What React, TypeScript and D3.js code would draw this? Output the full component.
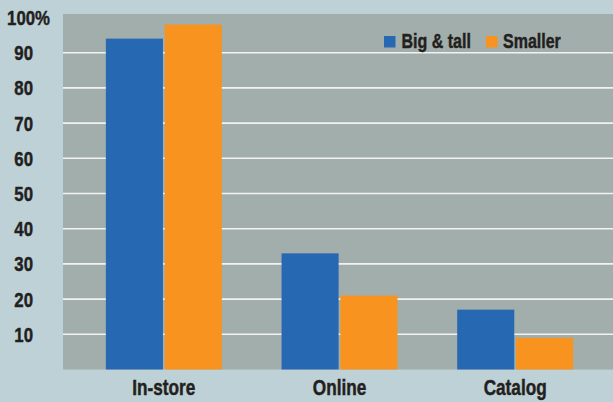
import React, { useEffect, useRef } from 'react'
import * as d3 from 'd3'

// Values (percent)
const categories = ['In-store', 'Online', 'Catalog']
const seriesNames = ['Big & tall', 'Smaller']
const bigAndTall = [94, 33, 17]
const smaller = [98, 21, 9]
const yTicks = [10, 20, 30, 40, 50, 60, 70, 80, 90, 100]

const colors = ['#2768b3', '#f7931e']

const WIDTH = 613
const HEIGHT = 402
// No narrow font installed: squeeze Liberation Sans horizontally (like Arial Narrow)
const FONT = '"Liberation Sans", Arial, sans-serif'
const SQUEEZE = 0.8

export default function App() {
  const svgRef = useRef<SVGSVGElement>(null)

  useEffect(() => {
    if (!svgRef.current) return

    const svg = d3.select(svgRef.current)
    svg.selectAll('*').remove()

    const plotLeft = 63
    const plotRight = WIDTH

    const y = d3.scaleLinear().domain([0, 100]).range([369.5, 17.5])

    const x0 = d3.scaleBand<string>()
      .domain(categories)
      .range([76, 603])
      .paddingInner(0.34)
      .paddingOuter(0.17)

    const x1 = d3.scaleBand<string>()
      .domain(seriesNames)
      .range([0, x0.bandwidth()])
      .paddingInner(0.03)

    // helper: narrow heavy text placed at (x, y)
    const label = (
      parent: d3.Selection<any, any, any, any>,
      x: number,
      yy: number,
      text: string,
      size: number,
      anchor: string,
      dy = '0'
    ) => {
      parent.append('g')
        .attr('transform', `translate(${x},${yy}) scale(${SQUEEZE},1)`)
        .append('text')
        .attr('dy', dy)
        .attr('text-anchor', anchor)
        .attr('fill', '#231f20')
        .attr('stroke', '#231f20')
        .attr('stroke-width', 0.45)
        .style('font-family', FONT)
        .style('font-weight', 'bold')
        .style('font-size', `${size}px`)
        .text(text)
    }

    // background
    svg.append('rect')
      .attr('width', WIDTH)
      .attr('height', HEIGHT)
      .attr('fill', '#bdd1d6')

    // plot area
    svg.append('rect')
      .attr('x', plotLeft)
      .attr('y', y(101))
      .attr('width', plotRight - plotLeft)
      .attr('height', y(0) - y(101))
      .attr('fill', '#a2aeab')

    // grid lines (no line at 100)
    svg.append('g')
      .selectAll('line')
      .data(yTicks.filter(d => d < 100))
      .enter().append('line')
      .attr('x1', plotLeft)
      .attr('x2', plotRight)
      .attr('y1', d => y(d))
      .attr('y2', d => y(d))
      .attr('stroke', '#f2f2f2')
      .attr('stroke-width', 1.6)

    // y labels
    const yAxis = svg.append('g')
    yTicks.forEach(d => {
      label(yAxis, d === 100 ? 50 : 33, y(d), d === 100 ? '100%' : String(d), 21, 'end', '0.36em')
    })

    // bars
    const rows = categories.map((c, i) => ({ category: c, values: [bigAndTall[i], smaller[i]] }))

    const group = svg.append('g')
      .selectAll('g')
      .data(rows)
      .enter().append('g')
      .attr('transform', d => `translate(${x0(d.category)},0)`)

    group.selectAll('rect')
      .data(d => d.values.map((v, i) => ({ key: seriesNames[i], value: v, i })))
      .enter().append('rect')
      .attr('x', d => x1(d.key) as number)
      .attr('y', d => y(d.value))
      .attr('width', x1.bandwidth())
      .attr('height', d => y(0) - y(d.value))
      .attr('fill', d => colors[d.i])

    // x labels
    const xAxis = svg.append('g')
    categories.forEach(c => {
      label(xAxis, (x0(c) as number) + x0.bandwidth() / 2, 395, c, 21.5, 'middle')
    })

    // legend
    const legendItems = [
      { name: seriesNames[0], sx: 384, tx: 401.5 },
      { name: seriesNames[1], sx: 486, tx: 503 },
    ]
    const legend = svg.append('g')
    legend.selectAll('rect')
      .data(legendItems)
      .enter().append('rect')
      .attr('x', d => d.sx)
      .attr('y', 36)
      .attr('width', 11.5)
      .attr('height', 11.5)
      .attr('fill', (d, i) => colors[i])
    legendItems.forEach(d => {
      label(legend, d.tx, 48.3, d.name, 20, 'start')
    })
  }, [])

  return (
    <svg
      ref={svgRef}
      width={WIDTH}
      height={HEIGHT}
      style={{ position: 'absolute', left: 0, top: 0, display: 'block' }}
    />
  )
}
